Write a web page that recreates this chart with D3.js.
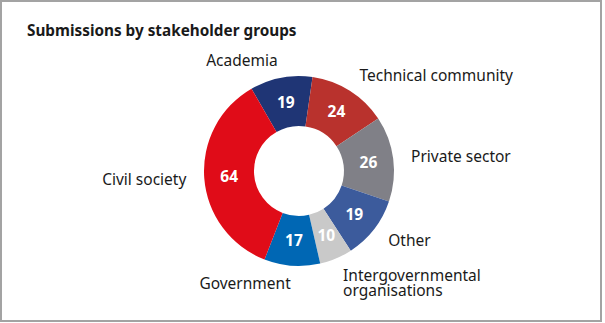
<!DOCTYPE html>
<html>
<head>
<meta charset="utf-8">
<script src="https://cdn.jsdelivr.net/npm/d3@7"></script>
<style>
  html, body { margin: 0; padding: 0; background: #fff; }
  svg text { font-family: "Noto Sans", "Open Sans", sans-serif; }
</style>
</head>
<body>
<div class="vis-donut"></div>
<script>
// data, clockwise starting at Academia
const groups = ['Academia', 'Technical community', 'Private sector', 'Other',
                'Intergovernmental organisations', 'Government', 'Civil society'];
const submissions = [19, 24, 26, 19, 10, 17, 64];
const colors = ['#1f3575', '#b9322d', '#808087', '#3c5b9c', '#c9c9c9', '#0067b4', '#e00c18'];
// labels that break onto two lines
const labelLines = {
  'Intergovernmental organisations': ['Intergovernmental', 'organisations']
};

const width = 605, height = 323;
const cx = 299, cy = 171;
const outerR = 95, innerR = 45, labelR = 113;

const svg = d3.select('.vis-donut').append('svg')
  .attr('width', width)
  .attr('height', height);

// frame
svg.append('rect')
  .attr('x', 1).attr('y', 1)
  .attr('width', 600).attr('height', 320)
  .attr('fill', '#fff')
  .attr('stroke', '#a3a3a3')
  .attr('stroke-width', 2);

svg.append('text')
  .attr('x', 27).attr('y', 36)
  .attr('font-size', 15.3)
  .attr('font-weight', 700)
  .attr('fill', '#1a1a1a')
  .text('Submissions by stakeholder groups');

const data = groups.map((g, i) => ({ group: g, value: submissions[i], color: colors[i] }));

const pie = d3.pie()
  .value(d => d.value)
  .sort(null)
  .startAngle(-30 * Math.PI / 180)
  .endAngle(330 * Math.PI / 180);

const arcs = pie(data);

const arc = d3.arc().innerRadius(innerR).outerRadius(outerR);
const labelArc = d3.arc().innerRadius(labelR).outerRadius(labelR);

const g = svg.append('g')
  .attr('transform', `translate(${cx}, ${cy})`);

g.selectAll('path.slice')
  .data(arcs)
  .enter().append('path')
    .attr('class', 'slice')
    .attr('d', arc)
    .attr('fill', d => d.data.color);

// values inside the ring
g.selectAll('text.value')
  .data(arcs)
  .enter().append('text')
    .attr('class', 'value')
    .attr('transform', d => `translate(${arc.centroid(d)})`)
    .attr('text-anchor', 'middle')
    .attr('dy', '0.36em')
    .attr('font-size', 15.5)
    .attr('font-weight', 700)
    .attr('fill', '#fff')
    .text(d => d.data.value);

// category labels outside
const labels = g.selectAll('text.label')
  .data(arcs)
  .enter().append('text')
    .attr('class', 'label')
    .attr('transform', d => `translate(${labelArc.centroid(d)})`)
    .attr('text-anchor', d => labelArc.centroid(d)[0] < 0 ? 'end' : 'start')
    .attr('font-size', 15.5)
    .attr('fill', '#1a1a1a');

labels.each(function(d) {
  const lines = labelLines[d.data.group] || [d.data.group];
  const t = d3.select(this);
  lines.forEach((line, i) => {
    t.append('tspan')
      .attr('x', 0)
      .attr('dy', i === 0 ? '0.36em' : '1.02em')
      .text(line);
  });
});
</script>
</body>
</html>
